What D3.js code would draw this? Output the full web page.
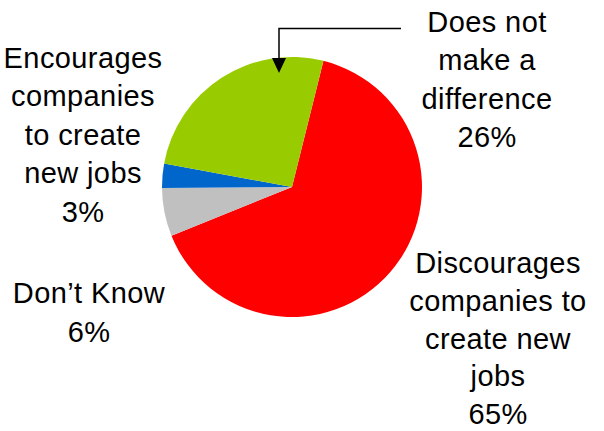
<!DOCTYPE html>
<html>
<head>
<meta charset="utf-8">
<script src="https://cdn.jsdelivr.net/npm/d3@7"></script>
<style>
  html, body { margin: 0; padding: 0; background: #fff; }
  svg { display: block; }
  text { font-family: "Liberation Sans", Arial, Helvetica, sans-serif; font-size: 29px; fill: #000; letter-spacing: 0.4px; }
</style>
</head>
<body>
<svg id="chart" width="604" height="431"></svg>
<script>
// Survey answers, drawn clockwise from the first slice
const categories = [
  "Discourages companies to create new jobs",
  "Don't Know",
  "Encourages companies to create new jobs",
  "Does not make a difference"
];
const values = [65, 6, 3, 26];
const colors = ["#FF0000", "#C0C0C0", "#0066CC", "#99CC00"];

// Label lines for each slice (last line is the percentage)
const labelLines = [
  ["Discourages", "companies to", "create new", "jobs", "65%"],
  ["Don\u2019t Know", "6%"],
  ["Encourages", "companies", "to create", "new jobs", "3%"],
  ["Does not", "make a", "difference", "26%"]
];

const svg = d3.select("#chart");
const cx = 292, cy = 187, radius = 130;
const start = 14 * Math.PI / 180;

const pie = d3.pie().sort(null).value(d => d).startAngle(start).endAngle(start + 2 * Math.PI);
const arc = d3.arc().innerRadius(0).outerRadius(radius);

const g = svg.append("g").attr("transform", `translate(${cx},${cy})`);
g.selectAll("path.slice")
  .data(pie(values))
  .join("path")
  .attr("class", "slice")
  .attr("d", arc)
  .attr("fill", (d, i) => colors[i]);

// Label blocks: centre x, first baseline, line step
const labelPos = [
  { x: 498, y: 273, step: 37.8 },
  { x: 89, y: 303, step: 38.5 },
  { x: 83, y: 67.5, step: 38.5 },
  { x: 487, y: 31.7, step: 38.4 }
];

labelLines.forEach((lines, i) => {
  const t = svg.append("text")
    .attr("text-anchor", "middle")
    .attr("x", labelPos[i].x)
    .attr("y", labelPos[i].y);
  lines.forEach((line, j) => {
    t.append("tspan")
      .attr("x", labelPos[i].x)
      .attr("y", labelPos[i].y + j * labelPos[i].step)
      .text(line);
  });
});

// Leader arrow from the "Does not make a difference" label into the green slice
svg.append("path")
  .attr("d", "M401,28.5 H279 V60")
  .attr("fill", "none")
  .attr("stroke", "#000")
  .attr("stroke-width", 1.5);
svg.append("path")
  .attr("d", "M272,58 L286,58 L279,73 Z")
  .attr("fill", "#000");
</script>
</body>
</html>
